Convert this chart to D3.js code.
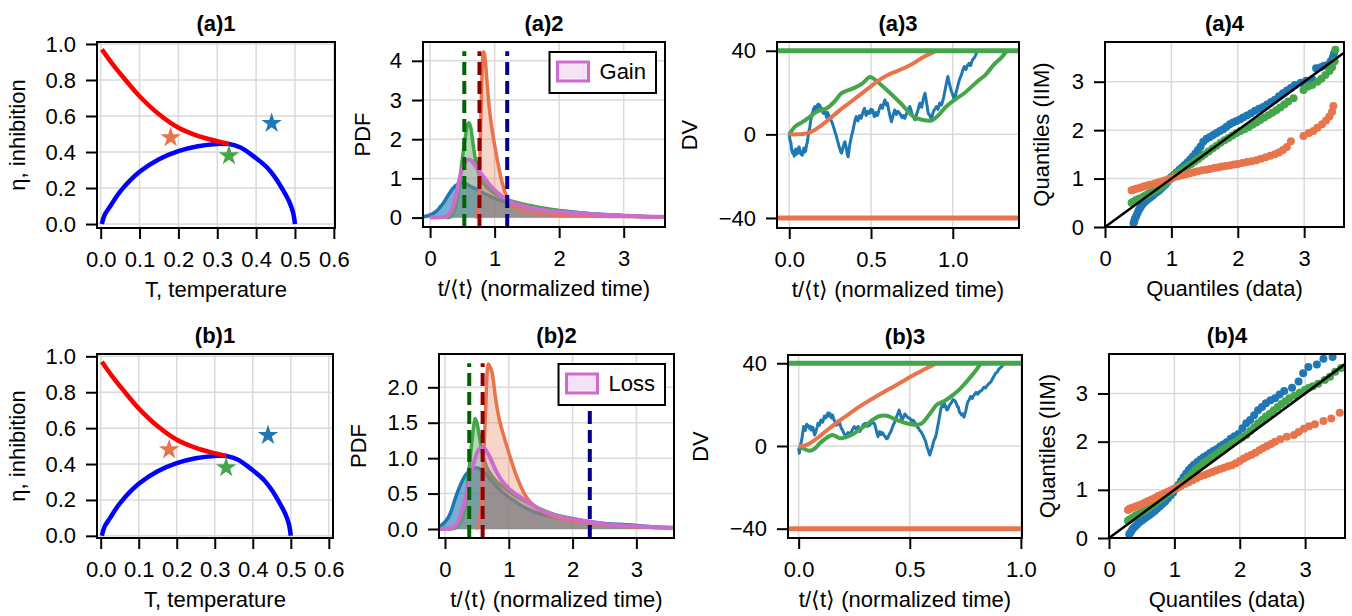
<!DOCTYPE html>
<html>
<head>
<meta charset="utf-8">
<script src="https://cdn.jsdelivr.net/npm/d3@7"></script>
<style>
  body { margin: 0; background: #fff; }
  svg text { font-family: "Liberation Sans", Arial, sans-serif; font-size: 22px; fill: #000; }
  .title { font-weight: bold; }
</style>
</head>
<body>
<div id="chart"></div>
<script>
var svgWidth = 1352;
var svgHeight = 616;

var blue = "#1f77b4", orange = "#e8744c", green = "#45a54b", purple = "#cc6ccf";

// ---- panel 1: phase diagram (same in both rows)
var spinodalT   = [0.003, 0.01, 0.025, 0.05, 0.1, 0.15, 0.2, 0.25, 0.3, 0.33, 0.36, 0.4, 0.43, 0.45, 0.47, 0.485, 0.495, 0.5];
var spinodalEta = [0.0, 0.05, 0.1, 0.18, 0.29, 0.36, 0.405, 0.432, 0.445, 0.445, 0.425, 0.365, 0.31, 0.255, 0.185, 0.125, 0.065, 0.0];
var boundaryT   = [0.003, 0.03, 0.06, 0.1, 0.15, 0.2, 0.25, 0.3, 0.33];
var boundaryEta = [0.97, 0.89, 0.81, 0.71, 0.61, 0.535, 0.49, 0.46, 0.445];
var starT   = [0.18, 0.33, 0.44];
var starEta = [0.48, 0.38, 0.56];
var starColors = [orange, green, blue];

// ---- panel 2: PDFs, row a (Gain)
var gainBlueX   = [-0.11, -0.05, 0, 0.05, 0.1, 0.15, 0.2, 0.25, 0.3, 0.35, 0.4, 0.45, 0.5, 0.55, 0.6, 0.7, 0.8, 0.9, 1.0, 1.1, 1.2, 1.3, 1.5, 1.7, 1.9, 2.1, 2.3, 2.5, 2.7, 3.0, 3.3, 3.64];
var gainBlueY   = [0.02, 0.04, 0.07, 0.11, 0.17, 0.26, 0.36, 0.49, 0.62, 0.74, 0.82, 0.87, 0.89, 0.87, 0.82, 0.74, 0.65, 0.57, 0.49, 0.43, 0.38, 0.33, 0.27, 0.23, 0.19, 0.16, 0.13, 0.1, 0.08, 0.05, 0.03, 0.02];
var gainGreenX  = [0.25, 0.3, 0.35, 0.4, 0.45, 0.5, 0.55, 0.58, 0.6, 0.63, 0.66, 0.7, 0.75, 0.8, 0.9, 1.0, 1.1, 1.2, 1.4, 1.6, 1.8, 2.0, 2.3, 2.6, 3.0, 3.3, 3.64];
var gainGreenY  = [0, 0.01, 0.08, 0.3, 0.8, 1.5, 2.1, 2.38, 2.42, 2.3, 1.95, 1.5, 1.15, 0.95, 0.75, 0.62, 0.53, 0.46, 0.36, 0.29, 0.23, 0.18, 0.12, 0.08, 0.05, 0.03, 0.02];
var gainOrangeX = [0.7, 0.73, 0.75, 0.77, 0.79, 0.81, 0.83, 0.85, 0.88, 0.92, 0.96, 1.0, 1.05, 1.1, 1.15, 1.2, 1.3, 1.4, 1.5, 1.7, 2.0, 2.5, 3.0, 3.64];
var gainOrangeY = [0, 0.05, 0.4, 1.4, 2.8, 3.9, 4.23, 4.1, 3.5, 2.75, 2.25, 1.85, 1.4, 1.0, 0.7, 0.5, 0.3, 0.2, 0.15, 0.1, 0.06, 0.04, 0.025, 0.01];
var gainPurpleX = [0, 0.1, 0.2, 0.25, 0.3, 0.35, 0.4, 0.45, 0.5, 0.55, 0.6, 0.65, 0.7, 0.8, 0.9, 1.0, 1.1, 1.2, 1.3, 1.5, 1.7, 2.0, 2.3, 2.6, 3.0, 3.3, 3.64];
var gainPurpleY = [0, 0.005, 0.01, 0.03, 0.09, 0.25, 0.55, 0.95, 1.27, 1.43, 1.48, 1.44, 1.33, 1.1, 0.88, 0.7, 0.56, 0.45, 0.37, 0.27, 0.21, 0.15, 0.11, 0.08, 0.05, 0.03, 0.02];
var gainMeans = [0.53, 0.765, 1.195];

// ---- panel 2: PDFs, row b (Loss)
var lossBlueX   = [-0.094, -0.05, 0, 0.05, 0.1, 0.15, 0.2, 0.25, 0.3, 0.35, 0.4, 0.45, 0.5, 0.55, 0.6, 0.7, 0.8, 0.9, 1.0, 1.1, 1.2, 1.3, 1.5, 1.7, 2.0, 2.2, 2.4, 2.6, 2.8, 3.0, 3.3, 3.59];
var lossBlueY   = [0.03, 0.06, 0.1, 0.16, 0.26, 0.4, 0.53, 0.64, 0.73, 0.79, 0.83, 0.86, 0.86, 0.85, 0.82, 0.72, 0.61, 0.52, 0.45, 0.39, 0.33, 0.28, 0.21, 0.17, 0.13, 0.11, 0.09, 0.07, 0.065, 0.05, 0.03, 0.02];
var lossGreenX  = [0.05, 0.15, 0.2, 0.25, 0.3, 0.35, 0.4, 0.45, 0.47, 0.5, 0.55, 0.6, 0.65, 0.7, 0.8, 0.9, 1.0, 1.1, 1.2, 1.3, 1.5, 1.7, 2.0, 2.3, 2.6, 3.0, 3.3, 3.59];
var lossGreenY  = [0, 0.01, 0.04, 0.1, 0.25, 0.6, 1.05, 1.45, 1.56, 1.5, 1.25, 1.02, 0.88, 0.8, 0.68, 0.6, 0.53, 0.47, 0.42, 0.37, 0.28, 0.21, 0.15, 0.09, 0.05, 0.03, 0.02, 0.015];
var lossOrangeX = [0.48, 0.52, 0.55, 0.58, 0.61, 0.64, 0.66, 0.68, 0.7, 0.74, 0.8, 0.85, 0.9, 1.0, 1.1, 1.2, 1.3, 1.4, 1.5, 1.7, 1.9, 2.2, 2.5, 2.8, 3.2, 3.59];
var lossOrangeY = [0, 0.05, 0.2, 0.55, 1.1, 1.75, 2.2, 2.33, 2.3, 2.2, 1.8, 1.55, 1.38, 1.08, 0.8, 0.58, 0.42, 0.33, 0.26, 0.18, 0.13, 0.09, 0.06, 0.04, 0.025, 0.015];
var lossPurpleX = [-0.094, 0, 0.1, 0.15, 0.2, 0.25, 0.3, 0.35, 0.4, 0.45, 0.5, 0.55, 0.6, 0.65, 0.7, 0.8, 0.9, 1.0, 1.1, 1.2, 1.3, 1.5, 1.7, 2.0, 2.3, 2.6, 3.0, 3.3, 3.59];
var lossPurpleY = [0, 0, 0.01, 0.03, 0.09, 0.2, 0.36, 0.55, 0.75, 0.93, 1.07, 1.14, 1.15, 1.1, 1.02, 0.82, 0.67, 0.57, 0.5, 0.44, 0.38, 0.27, 0.2, 0.14, 0.1, 0.06, 0.04, 0.025, 0.015];
var lossMeans = [0.38, 0.59, 2.27];

var meanColors = ["#006400", "#8b0000", "#00008b"];

// ---- panel 3: decision variable trajectories
var bounds = [40, -40];
var gainTrajGreenT = [0, 0.035, 0.075, 0.12, 0.17, 0.23, 0.28, 0.32, 0.39, 0.45, 0.49, 0.51, 0.55, 0.6, 0.68, 0.76, 0.81, 0.87, 0.91, 0.96, 1.02, 1.07, 1.15, 1.2, 1.25, 1.3, 1.33];
var gainTrajGreenV = [0, 3.7, 5.6, 8, 10.9, 12.5, 16, 19.7, 22, 24.5, 27.4, 27, 24.5, 21, 15, 8.5, 7, 6.6, 9, 13.3, 17, 19.7, 25.3, 28.5, 33.3, 37, 40];
var gainTrajOrangeT = [0, 0.04, 0.086, 0.12, 0.15, 0.2, 0.25, 0.3, 0.35, 0.4, 0.45, 0.5, 0.55, 0.6, 0.66, 0.71, 0.76, 0.82, 0.86, 0.9];
var gainTrajOrangeV = [0, 0, 0.2, 0.8, 1.8, 4.5, 7.7, 11, 14, 17, 20, 23, 26, 28.3, 30.3, 32, 34, 37, 38.5, 40];
var gainTrajBlueT = [0, 0.005, 0.01, 0.015, 0.02, 0.025, 0.03, 0.035, 0.04, 0.045, 0.05, 0.055, 0.06, 0.065, 0.07, 0.075, 0.08, 0.085, 0.09, 0.095, 0.1, 0.106, 0.11, 0.115, 0.12, 0.125, 0.13, 0.136, 0.14, 0.145, 0.15, 0.157, 0.162, 0.167, 0.172, 0.177, 0.182, 0.187, 0.191, 0.195, 0.2, 0.205, 0.21, 0.215, 0.22, 0.225, 0.23, 0.235, 0.24, 0.245, 0.25, 0.255, 0.26, 0.265, 0.27, 0.275, 0.28, 0.285, 0.29, 0.295, 0.3, 0.305, 0.31, 0.315, 0.32, 0.325, 0.33, 0.335, 0.34, 0.345, 0.35, 0.355, 0.36, 0.365, 0.37, 0.375, 0.38, 0.385, 0.39, 0.395, 0.4, 0.405, 0.41, 0.415, 0.42, 0.425, 0.43, 0.435, 0.44, 0.445, 0.45, 0.455, 0.46, 0.465, 0.47, 0.475, 0.48, 0.485, 0.49, 0.495, 0.5, 0.505, 0.51, 0.515, 0.52, 0.525, 0.53, 0.535, 0.54, 0.545, 0.55, 0.555, 0.56, 0.565, 0.57, 0.578, 0.585, 0.59, 0.595, 0.6, 0.605, 0.61, 0.617, 0.625, 0.63, 0.635, 0.64, 0.645, 0.65, 0.655, 0.66, 0.665, 0.67, 0.676, 0.683, 0.69, 0.698, 0.707, 0.713, 0.72, 0.728, 0.737, 0.743, 0.75, 0.755, 0.76, 0.765, 0.77, 0.775, 0.78, 0.785, 0.79, 0.795, 0.8, 0.805, 0.81, 0.815, 0.82, 0.825, 0.83, 0.835, 0.84, 0.845, 0.85, 0.855, 0.86, 0.865, 0.87, 0.875, 0.88, 0.885, 0.89, 0.895, 0.9, 0.905, 0.91, 0.915, 0.92, 0.925, 0.93, 0.935, 0.94, 0.945, 0.95, 0.955, 0.96, 0.965, 0.97, 0.975, 0.98, 0.985, 0.99, 0.995, 1.0, 1.005, 1.01, 1.015, 1.02, 1.025, 1.03, 1.035, 1.04, 1.045, 1.05, 1.055, 1.06, 1.065, 1.07, 1.075, 1.08, 1.085, 1.09, 1.095, 1.1, 1.105, 1.11, 1.115, 1.12, 1.125, 1.13, 1.135, 1.14, 1.145, 1.15];
var gainTrajBlueV = [0, -3, -4, -7.5, -9, -8, -10.5, -8.5, -7, -9.5, -9, -7, -6, -8, -9.5, -8.5, -10, -7.5, -6.5, -8.5, -8, -5, -4, -1, 1.5, 3, 6, 8.5, 10, 11, 12.5, 13.3, 11.5, 12, 14, 14.5, 13, 14, 12.5, 11.5, 12.5, 10.5, 10, 12, 11, 9, 8, 10.5, 9.5, 8, 8.5, 7, 6, 5, 3.7, 2.5, 1, 0, -1.5, -3, -4.3, -6, -7, -8.5, -9, -7.5, -6, -4.5, -3.5, -5, -7, -9.5, -10.7, -8, -5, -3, -1, 0.5, 2, 4, 6, 7.5, 8.5, 7, 6.5, 8, 9, 8, 7.7, 9, 10.5, 11.5, 12.5, 10.5, 9, 10, 11, 10.5, 10, 11.5, 12, 10.5, 11.7, 10, 8.5, 9.5, 10.5, 9, 9.3, 10.5, 12, 13, 14, 13, 12.5, 15, 16.5, 15, 14, 15, 13, 11, 8.5, 6, 7.5, 9, 10.5, 11.7, 11, 9.5, 10.5, 11, 10.5, 10, 9, 8, 9, 7.7, 9, 10.5, 12, 13.3, 12, 10, 9, 8.5, 7.5, 7, 8.5, 10, 11, 12.5, 14, 15, 13.5, 13, 15, 17, 18.5, 19.7, 17.5, 15, 12.5, 10, 9.5, 9, 8, 7.7, 9, 10.5, 11.5, 12, 12.5, 13.3, 12.5, 12, 13.5, 15, 14.5, 14, 15, 16.5, 18, 20, 22, 24, 26, 27.7, 26, 24, 22.5, 21, 20, 19, 17.5, 16.5, 18, 20, 21.5, 23, 24.5, 26, 27, 28, 29, 30.5, 31.5, 32.5, 31.5, 31, 32, 33, 33.5, 34, 33, 33, 34.5, 35.5, 36, 36.5, 37, 38, 39, 40];

var lossTrajGreenT = [0, 0.02, 0.05, 0.075, 0.095, 0.12, 0.15, 0.17, 0.185, 0.21, 0.245, 0.275, 0.305, 0.335, 0.365, 0.395, 0.425, 0.455, 0.485, 0.53, 0.555, 0.575, 0.6, 0.62, 0.66, 0.695, 0.725, 0.755, 0.79, 0.82];
var lossTrajGreenV = [-0.3, -1.2, -2.3, -1, 1.3, 3.5, 5.3, 4.5, 3.7, 4.2, 5.8, 8, 10.2, 12.8, 14.5, 14.6, 13.4, 12, 11, 10.2, 11, 13.4, 17, 19.8, 22, 24.7, 27.5, 31, 35.5, 40];
var lossTrajOrangeT = [0, 0.03, 0.05, 0.08, 0.11, 0.15, 0.21, 0.28, 0.36, 0.44, 0.52, 0.58, 0.62];
var lossTrajOrangeV = [0, 0.3, 1.3, 3.5, 6.1, 9.5, 14.2, 19.5, 24.7, 29.5, 34.4, 37.8, 40];
var lossTrajBlueT = [0, 0.003, 0.006, 0.009, 0.012, 0.015, 0.018, 0.0225, 0.026, 0.03, 0.033, 0.036, 0.039, 0.042, 0.046, 0.05, 0.054, 0.057, 0.061, 0.064, 0.068, 0.072, 0.076, 0.08, 0.084, 0.087, 0.091, 0.094, 0.097, 0.1, 0.104, 0.108, 0.112, 0.116, 0.12, 0.125, 0.128, 0.132, 0.136, 0.14, 0.144, 0.148, 0.152, 0.155, 0.158, 0.162, 0.166, 0.17, 0.174, 0.178, 0.182, 0.185, 0.189, 0.192, 0.196, 0.2, 0.204, 0.208, 0.212, 0.215, 0.219, 0.222, 0.226, 0.23, 0.235, 0.24, 0.245, 0.25, 0.255, 0.26, 0.264, 0.268, 0.272, 0.275, 0.28, 0.285, 0.289, 0.292, 0.296, 0.3, 0.305, 0.31, 0.315, 0.32, 0.325, 0.33, 0.335, 0.34, 0.344, 0.348, 0.353, 0.357, 0.361, 0.365, 0.369, 0.372, 0.376, 0.38, 0.385, 0.39, 0.395, 0.4, 0.405, 0.41, 0.415, 0.42, 0.425, 0.43, 0.435, 0.44, 0.444, 0.448, 0.452, 0.455, 0.459, 0.462, 0.466, 0.47, 0.474, 0.478, 0.482, 0.485, 0.49, 0.495, 0.5, 0.505, 0.51, 0.515, 0.52, 0.525, 0.53, 0.535, 0.54, 0.545, 0.55, 0.555, 0.56, 0.564, 0.568, 0.572, 0.575, 0.579, 0.583, 0.587, 0.59, 0.595, 0.6, 0.605, 0.61, 0.615, 0.62, 0.625, 0.63, 0.635, 0.64, 0.645, 0.65, 0.655, 0.66, 0.664, 0.668, 0.672, 0.675, 0.68, 0.685, 0.69, 0.695, 0.699, 0.703, 0.707, 0.71, 0.714, 0.718, 0.722, 0.725, 0.729, 0.733, 0.737, 0.74, 0.744, 0.748, 0.752, 0.755, 0.759, 0.762, 0.766, 0.77, 0.774, 0.778, 0.782, 0.785, 0.79, 0.795, 0.8, 0.805, 0.81, 0.815, 0.82, 0.825, 0.83, 0.835, 0.84, 0.845, 0.85, 0.855, 0.86, 0.865, 0.87, 0.875, 0.88, 0.885, 0.89, 0.895, 0.9, 0.905, 0.91, 0.915, 0.92, 0.925, 0.93, 0.935, 0.94, 0.945, 0.95, 0.955, 0.96, 0.965];
var lossTrajBlueV = [-1, -3.5, -1.5, 1, 2, 4, 6, 9.4, 8, 7.5, 9, 10.5, 9.5, 10, 9, 8.5, 9.5, 7.7, 8.5, 9, 7, 5.3, 6.5, 8, 9.5, 11, 10, 10, 11.5, 12.6, 12, 11.5, 13, 14.5, 13.5, 14, 15, 16, 14.5, 15.8, 14.5, 13.5, 15, 14, 13, 12, 11, 10, 11, 12, 10.5, 11, 9.5, 8.5, 8, 7, 6, 5.5, 4, 4.5, 6, 6.5, 5, 5.3, 6.5, 7.5, 8.5, 9.4, 8.5, 8, 9, 9.5, 8, 7, 8, 9, 10, 10.5, 10, 11, 10.5, 9.5, 10.5, 10, 11, 12, 11, 11, 10, 8, 6, 4.5, 6, 7, 6, 5.5, 6.5, 6, 5, 4.5, 3.5, 3.7, 5, 6, 7, 8.5, 10, 11, 12.5, 14, 15, 16, 17.4, 16, 15, 13.5, 12.6, 13.5, 14.5, 15.5, 15, 14.5, 14, 13.5, 13.4, 12.5, 12, 12.5, 11.8, 11, 10, 9, 8.5, 7.5, 7, 6, 5, 4, 3, 2, 0.5, -1, -2, -3.5, -4.4, -2.5, -1, 1.3, 3, 4, 6, 9, 12, 15, 18, 19.5, 19, 20.6, 19.5, 18, 17.4, 18, 19, 20, 20.6, 21.5, 22.5, 22, 22, 21, 20.5, 19, 19, 17, 16, 15.8, 15, 15.5, 15, 14, 15.5, 17, 18.5, 20.6, 21.5, 22, 23, 24, 23.5, 23, 24, 24.7, 25.5, 26, 25, 25.5, 26.5, 26.5, 27, 28, 28.5, 28, 28.7, 29.5, 30, 30.5, 31, 32, 33, 34, 35, 35.5, 36, 37, 37.6, 38, 38.5, 39.5, 40];

// ---- panel 4: QQ plots
var gainQQBlueX = [0.43, 0.44, 0.45, 0.47, 0.49, 0.51, 0.53, 0.55, 0.58, 0.61, 0.64, 0.67, 0.7, 0.73, 0.76, 0.79, 0.82, 0.85, 0.88, 0.91, 0.94, 0.97, 1.0, 1.04, 1.08, 1.12, 1.16, 1.2, 1.24, 1.28, 1.32, 1.36, 1.4, 1.44, 1.48, 1.53, 1.58, 1.63, 1.68, 1.73, 1.78, 1.83, 1.88, 1.93, 1.98, 2.03, 2.08, 2.14, 2.2, 2.26, 2.32, 2.38, 2.44, 2.5, 2.56, 2.62, 2.68, 2.74, 2.8, 2.86, 2.95, 3.03, 3.12, 3.18, 3.25, 3.3, 3.36, 3.4, 3.43, 3.45];
var gainQQBlueY = [0.08, 0.12, 0.17, 0.22, 0.29, 0.35, 0.4, 0.44, 0.49, 0.53, 0.57, 0.6, 0.63, 0.66, 0.7, 0.73, 0.76, 0.8, 0.84, 0.88, 0.93, 0.98, 1.03, 1.08, 1.13, 1.18, 1.23, 1.28, 1.33, 1.39, 1.45, 1.52, 1.59, 1.66, 1.76, 1.82, 1.86, 1.9, 1.94, 1.98, 2.02, 2.07, 2.12, 2.16, 2.19, 2.22, 2.26, 2.3, 2.35, 2.4, 2.44, 2.48, 2.53, 2.58, 2.63, 2.7, 2.76, 2.82, 2.87, 2.93, 2.98, 3.02, 3.05, 3.28, 3.3, 3.33, 3.35, 3.42, 3.5, 3.58];
var gainQQGreenX = [0.4, 0.43, 0.46, 0.5, 0.54, 0.58, 0.62, 0.66, 0.7, 0.74, 0.78, 0.82, 0.86, 0.9, 0.94, 0.98, 1.02, 1.06, 1.1, 1.15, 1.2, 1.25, 1.3, 1.35, 1.4, 1.45, 1.5, 1.56, 1.62, 1.68, 1.74, 1.8, 1.86, 1.92, 1.98, 2.04, 2.1, 2.16, 2.22, 2.28, 2.34, 2.4, 2.46, 2.52, 2.58, 2.64, 2.7, 2.76, 2.84, 2.99, 3.06, 3.12, 3.2, 3.26, 3.32, 3.38, 3.42, 3.46, 3.47];
var gainQQGreenY = [0.5, 0.52, 0.55, 0.58, 0.6, 0.63, 0.66, 0.69, 0.72, 0.75, 0.78, 0.81, 0.85, 0.9, 0.95, 1.0, 1.04, 1.08, 1.12, 1.17, 1.22, 1.26, 1.3, 1.35, 1.4, 1.45, 1.5, 1.56, 1.62, 1.68, 1.74, 1.79, 1.84, 1.89, 1.94, 1.98, 2.02, 2.06, 2.11, 2.16, 2.21, 2.26, 2.31, 2.36, 2.41, 2.47, 2.53, 2.59, 2.66, 2.83, 2.9, 2.93, 3.0, 3.06, 3.14, 3.22, 3.3, 3.42, 3.66];
var gainQQOrangeX = [0.4, 0.43, 0.47, 0.51, 0.55, 0.59, 0.63, 0.67, 0.71, 0.75, 0.8, 0.85, 0.9, 0.95, 1.0, 1.05, 1.1, 1.16, 1.22, 1.28, 1.34, 1.4, 1.46, 1.52, 1.58, 1.64, 1.7, 1.76, 1.82, 1.88, 1.94, 2.0, 2.07, 2.14, 2.21, 2.28, 2.35, 2.42, 2.49, 2.56, 2.62, 2.68, 2.74, 2.8, 2.99, 3.07, 3.14, 3.2, 3.27, 3.33, 3.38, 3.42, 3.44];
var gainQQOrangeY = [0.76, 0.77, 0.79, 0.8, 0.82, 0.84, 0.85, 0.87, 0.88, 0.9, 0.92, 0.94, 0.96, 0.98, 1.0, 1.03, 1.05, 1.07, 1.09, 1.11, 1.13, 1.15, 1.17, 1.18, 1.2, 1.22, 1.23, 1.25, 1.26, 1.27, 1.29, 1.3, 1.32, 1.34, 1.36, 1.38, 1.41, 1.44, 1.47, 1.5, 1.54, 1.59, 1.65, 1.77, 1.88, 1.94, 1.98, 2.05, 2.12, 2.2, 2.28, 2.38, 2.5];

var lossQQBlueX = [0.31, 0.33, 0.35, 0.37, 0.4, 0.43, 0.46, 0.5, 0.54, 0.58, 0.62, 0.66, 0.7, 0.74, 0.78, 0.82, 0.86, 0.9, 0.94, 0.98, 1.02, 1.06, 1.1, 1.14, 1.18, 1.22, 1.26, 1.3, 1.35, 1.4, 1.45, 1.5, 1.55, 1.6, 1.65, 1.7, 1.75, 1.8, 1.86, 1.92, 1.98, 2.04, 2.1, 2.16, 2.22, 2.28, 2.34, 2.4, 2.47, 2.54, 2.61, 2.68, 2.8, 2.9, 2.97, 3.05, 3.18, 3.28, 3.42];
var lossQQBlueY = [0.08, 0.12, 0.16, 0.2, 0.24, 0.28, 0.32, 0.36, 0.4, 0.44, 0.48, 0.52, 0.56, 0.61, 0.66, 0.71, 0.76, 0.82, 0.88, 0.94, 1.02, 1.1, 1.18, 1.26, 1.34, 1.41, 1.47, 1.52, 1.58, 1.63, 1.68, 1.72, 1.77, 1.81, 1.85, 1.9, 1.94, 1.99, 2.06, 2.11, 2.16, 2.28, 2.38, 2.45, 2.55, 2.65, 2.72, 2.8, 2.86, 2.9, 2.98, 3.05, 3.12, 3.25, 3.42, 3.55, 3.6, 3.72, 3.76];
var lossQQGreenX = [0.29, 0.32, 0.36, 0.4, 0.44, 0.48, 0.52, 0.56, 0.6, 0.65, 0.7, 0.75, 0.8, 0.85, 0.9, 0.95, 1.0, 1.05, 1.1, 1.15, 1.2, 1.26, 1.32, 1.38, 1.44, 1.5, 1.56, 1.62, 1.68, 1.74, 1.8, 1.86, 1.92, 1.98, 2.04, 2.1, 2.16, 2.22, 2.28, 2.34, 2.4, 2.46, 2.52, 2.58, 2.64, 2.7, 2.76, 2.84, 2.92, 3.0, 3.06, 3.12, 3.2, 3.3, 3.38, 3.46, 3.55];
var lossQQGreenY = [0.36, 0.39, 0.42, 0.46, 0.49, 0.52, 0.55, 0.58, 0.62, 0.67, 0.72, 0.77, 0.82, 0.87, 0.92, 0.97, 1.02, 1.07, 1.12, 1.18, 1.25, 1.33, 1.41, 1.48, 1.55, 1.6, 1.66, 1.72, 1.78, 1.84, 1.89, 1.94, 1.99, 2.04, 2.09, 2.14, 2.22, 2.3, 2.38, 2.45, 2.52, 2.58, 2.65, 2.72, 2.78, 2.84, 2.9, 2.96, 3.02, 3.08, 3.12, 3.15, 3.2, 3.28, 3.35, 3.45, 3.53];
var lossQQOrangeX = [0.29, 0.32, 0.36, 0.4, 0.44, 0.48, 0.52, 0.56, 0.6, 0.65, 0.7, 0.75, 0.8, 0.85, 0.9, 0.95, 1.0, 1.05, 1.1, 1.16, 1.22, 1.28, 1.34, 1.4, 1.46, 1.52, 1.58, 1.64, 1.7, 1.76, 1.82, 1.88, 1.94, 2.0, 2.06, 2.12, 2.18, 2.24, 2.3, 2.36, 2.42, 2.48, 2.54, 2.62, 2.72, 2.83, 2.9, 2.98, 3.06, 3.15, 3.28, 3.4, 3.53];
var lossQQOrangeY = [0.58, 0.61, 0.63, 0.65, 0.67, 0.69, 0.71, 0.74, 0.77, 0.8, 0.83, 0.87, 0.9, 0.93, 0.96, 0.99, 1.02, 1.05, 1.08, 1.12, 1.16, 1.2, 1.24, 1.28, 1.31, 1.34, 1.37, 1.4, 1.43, 1.46, 1.49, 1.51, 1.55, 1.6, 1.65, 1.69, 1.73, 1.77, 1.82, 1.87, 1.91, 1.95, 2.0, 2.05, 2.1, 2.14, 2.2, 2.27, 2.32, 2.36, 2.43, 2.48, 2.6];

var svg = d3.select("#chart")
    .append("svg")
    .attr("width", svgWidth)
    .attr("height", svgHeight);

function pairs(xs, ys) {
    return xs.map((v, i) => [v, ys[i]]);
}

// builds one axes box: grid, data layer (clipped), frame, ticks and labels
function makePanel(p) {
    var x = d3.scaleLinear().domain(p.xDomain).range([p.left, p.right]);
    var y = d3.scaleLinear().domain(p.yDomain).range([p.bottom, p.top]);
    var g = svg.append("g");

    g.append("clipPath").attr("id", "clip-" + p.id)
        .append("rect")
        .attr("x", p.left).attr("y", p.top)
        .attr("width", p.right - p.left).attr("height", p.bottom - p.top);

    var grid = g.append("g").attr("stroke", "#dadada").attr("stroke-width", 1.5);
    grid.selectAll("line.gx").data(p.xTicks).join("line").attr("class", "gx")
        .attr("x1", d => x(d)).attr("x2", d => x(d))
        .attr("y1", p.top).attr("y2", p.bottom);
    grid.selectAll("line.gy").data(p.yTicks).join("line").attr("class", "gy")
        .attr("y1", d => y(d)).attr("y2", d => y(d))
        .attr("x1", p.left).attr("x2", p.right);

    var plot = g.append("g").attr("clip-path", `url(#clip-${p.id})`);

    g.append("rect")
        .attr("x", p.left).attr("y", p.top)
        .attr("width", p.right - p.left).attr("height", p.bottom - p.top)
        .attr("fill", "none").attr("stroke", "#000").attr("stroke-width", 2);

    var xAxis = g.append("g")
        .attr("transform", `translate(0, ${p.bottom})`)
        .call(d3.axisBottom(x).tickValues(p.xTicks).tickFormat(d3.format(p.xFmt)).tickSize(11).tickPadding(12));
    var yAxis = g.append("g")
        .attr("transform", `translate(${p.left}, 0)`)
        .call(d3.axisLeft(y).tickValues(p.yTicks).tickFormat(d3.format(p.yFmt)).tickSize(11).tickPadding(10));
    [xAxis, yAxis].forEach(function(a) {
        a.attr("font-size", null).attr("font-family", null);
        a.select(".domain").remove();
        a.selectAll(".tick line").attr("stroke", "#000").attr("stroke-width", 2);
        a.selectAll(".tick text").attr("fill", "#000");
    });

    g.append("text")
        .attr("class", "title")
        .attr("x", (p.left + p.right) / 2)
        .attr("y", p.top - 11)
        .attr("text-anchor", "middle")
        .text(p.title);

    g.append("text")
        .attr("x", (p.left + p.right) / 2)
        .attr("y", p.bottom + 69)
        .attr("text-anchor", "middle")
        .text(p.xLabel);

    g.append("text")
        .attr("transform", `translate(${p.left - p.yLabelOff}, ${(p.top + p.bottom) / 2}) rotate(-90)`)
        .attr("text-anchor", "middle")
        .text(p.yLabel);

    return { x: x, y: y, g: g, plot: plot, p: p };
}

function drawPhase(ax) {
    var line = d3.line().x(d => ax.x(d[0])).y(d => ax.y(d[1])).curve(d3.curveCatmullRom);
    ax.plot.append("path").datum(pairs(spinodalT, spinodalEta))
        .attr("d", line).attr("fill", "none").attr("stroke", "#0000ff").attr("stroke-width", 4.5);
    ax.plot.append("path").datum(pairs(boundaryT, boundaryEta))
        .attr("d", line).attr("fill", "none").attr("stroke", "#ff0000").attr("stroke-width", 4.5);
    ax.plot.selectAll("path.star")
        .data(starT.map((t, i) => ({ t: t, eta: starEta[i], c: starColors[i] })))
        .join("path").attr("class", "star")
        .attr("transform", d => `translate(${ax.x(d.t)}, ${ax.y(d.eta)})`)
        .attr("d", d3.symbol().type(d3.symbolStar).size(130))
        .attr("fill", d => d.c);
}

function drawKde(ax, xs, ys, color, fillAlpha, lw) {
    var pts = pairs(xs, ys);
    var area = d3.area().x(d => ax.x(d[0])).y0(ax.y(0)).y1(d => ax.y(d[1])).curve(d3.curveMonotoneX);
    var line = d3.line().x(d => ax.x(d[0])).y(d => ax.y(d[1])).curve(d3.curveMonotoneX);
    ax.plot.append("path").datum(pts).attr("d", area)
        .attr("fill", color).attr("fill-opacity", fillAlpha);
    ax.plot.append("path").datum(pts).attr("d", line)
        .attr("fill", "none").attr("stroke", color).attr("stroke-width", lw);
}

function drawMeans(ax, means) {
    var p = ax.p;
    ax.plot.selectAll("line.mean").data(means).join("line").attr("class", "mean")
        .attr("x1", d => ax.x(d)).attr("x2", d => ax.x(d))
        .attr("y1", p.bottom).attr("y2", p.bottom - 0.95 * (p.bottom - p.top))
        .attr("stroke", (d, i) => meanColors[i])
        .attr("stroke-width", 4)
        .attr("stroke-dasharray", "13,6");
}

function drawLegend(ax, label) {
    var p = ax.p;
    var lg = ax.g.append("g");
    var t = lg.append("text").text(label);
    var tw = t.node().getComputedTextLength();
    var boxW = 50 + tw + 10, boxH = 41;
    var boxL = p.right - 9 - boxW, boxT = p.top + 10;
    lg.insert("rect", "text")
        .attr("x", boxL).attr("y", boxT).attr("width", boxW).attr("height", boxH)
        .attr("fill", "#fff").attr("stroke", "#000").attr("stroke-width", 2);
    lg.insert("rect", "text")
        .attr("x", boxL + 8).attr("y", boxT + 10).attr("width", 31).attr("height", 19)
        .attr("fill", purple).attr("fill-opacity", 0.2)
        .attr("stroke", purple).attr("stroke-width", 3);
    t.attr("x", boxL + 50).attr("y", boxT + 27);
}

function drawPdf(ax, sets, means, label) {
    drawKde(ax, sets[0][0], sets[0][1], blue, 0.6, 3.5);
    drawKde(ax, sets[1][0], sets[1][1], green, 0.42, 3.5);
    drawKde(ax, sets[2][0], sets[2][1], orange, 0.3, 3.5);
    drawKde(ax, sets[3][0], sets[3][1], purple, 0.2, 4);
    drawMeans(ax, means);
    drawLegend(ax, label);
}

function drawTraj(ax, blueT, blueV, greenT, greenV, orangeT, orangeV) {
    var line = d3.line().x(d => ax.x(d[0])).y(d => ax.y(d[1]));
    var smooth = d3.line().x(d => ax.x(d[0])).y(d => ax.y(d[1])).curve(d3.curveCatmullRom);
    ax.plot.append("path").datum(pairs(blueT, blueV)).attr("d", line)
        .attr("fill", "none").attr("stroke", blue).attr("stroke-width", 3).attr("stroke-linejoin", "round");
    ax.plot.append("path").datum(pairs(greenT, greenV)).attr("d", smooth)
        .attr("fill", "none").attr("stroke", green).attr("stroke-width", 4);
    ax.plot.append("path").datum(pairs(orangeT, orangeV)).attr("d", smooth)
        .attr("fill", "none").attr("stroke", orange).attr("stroke-width", 4);
    var xd = ax.x.domain();
    ax.plot.selectAll("line.bound").data(bounds).join("line").attr("class", "bound")
        .attr("x1", ax.x(xd[0])).attr("x2", ax.x(xd[1]))
        .attr("y1", d => ax.y(d)).attr("y2", d => ax.y(d))
        .attr("stroke", (d, i) => i === 0 ? green : orange)
        .attr("stroke-width", 5);
}

function drawQQ(ax, series) {
    var colors = [blue, green, orange];
    series.forEach(function(s, k) {
        ax.plot.append("g").selectAll("circle")
            .data(pairs(s[0], s[1]))
            .join("circle")
            .attr("cx", d => ax.x(d[0]))
            .attr("cy", d => ax.y(d[1]))
            .attr("r", 4)
            .attr("fill", colors[k]);
    });
    var xd = ax.x.domain();
    ax.plot.append("line")
        .attr("x1", ax.x(0)).attr("y1", ax.y(0))
        .attr("x2", ax.x(xd[1])).attr("y2", ax.y(xd[1]))
        .attr("stroke", "#000").attr("stroke-width", 2.5);
}

var tLabel = "t/\u27e8t\u27e9 (normalized time)";
var phaseTicksX = [0, 0.1, 0.2, 0.3, 0.4, 0.5, 0.6];
var phaseTicksY = [0, 0.2, 0.4, 0.6, 0.8, 1.0];

var a1 = makePanel({ id: "a1", left: 97, top: 42, right: 335, bottom: 228,
    xDomain: [-0.0095, 0.603], yDomain: [-0.022, 1.011], xTicks: phaseTicksX, yTicks: phaseTicksY,
    xFmt: ".1f", yFmt: ".1f", title: "(a)1", xLabel: "T, temperature", yLabel: "\u03b7, inhibition", yLabelOff: 72 });
var a2 = makePanel({ id: "a2", left: 423, top: 42, right: 665, bottom: 227,
    xDomain: [-0.11, 3.64], yDomain: [-0.24, 4.48], xTicks: [0, 1, 2, 3], yTicks: [0, 1, 2, 3, 4],
    xFmt: "d", yFmt: "d", title: "(a)2", xLabel: tLabel, yLabel: "PDF", yLabelOff: 53 });
var a3 = makePanel({ id: "a3", left: 777, top: 42, right: 1019, bottom: 228,
    xDomain: [-0.075, 1.405], yDomain: [-44.8, 44.2], xTicks: [0, 0.5, 1.0], yTicks: [-40, 0, 40],
    xFmt: ".1f", yFmt: "d", title: "(a)3", xLabel: tLabel, yLabel: "DV", yLabelOff: 80 });
var a4 = makePanel({ id: "a4", left: 1105, top: 42, right: 1344, bottom: 227,
    xDomain: [0, 3.6], yDomain: [0, 3.82], xTicks: [0, 1, 2, 3], yTicks: [0, 1, 2, 3],
    xFmt: "d", yFmt: "d", title: "(a)4", xLabel: "Quantiles (data)", yLabel: "Quantiles (IIM)", yLabelOff: 56 });

var b1 = makePanel({ id: "b1", left: 97, top: 354, right: 333, bottom: 538,
    xDomain: [-0.0097, 0.611], yDomain: [-0.012, 1.013], xTicks: phaseTicksX, yTicks: phaseTicksY,
    xFmt: ".1f", yFmt: ".1f", title: "(b)1", xLabel: "T, temperature", yLabel: "\u03b7, inhibition", yLabelOff: 72 });
var b2 = makePanel({ id: "b2", left: 439, top: 354, right: 674, bottom: 538,
    xDomain: [-0.094, 3.59], yDomain: [-0.127, 2.47], xTicks: [0, 1, 2, 3], yTicks: [0, 0.5, 1.0, 1.5, 2.0],
    xFmt: "d", yFmt: ".1f", title: "(b)2", xLabel: tLabel, yLabel: "PDF", yLabelOff: 73 });
var b3 = makePanel({ id: "b3", left: 788, top: 355, right: 1022, bottom: 538,
    xDomain: [-0.048, 1.005], yDomain: [-44.5, 44], xTicks: [0, 0.5, 1.0], yTicks: [-40, 0, 40],
    xFmt: ".1f", yFmt: "d", title: "(b)3", xLabel: tLabel, yLabel: "DV", yLabelOff: 80 });
var b4 = makePanel({ id: "b4", left: 1109, top: 354, right: 1345, bottom: 538,
    xDomain: [0, 3.61], yDomain: [0, 3.82], xTicks: [0, 1, 2, 3], yTicks: [0, 1, 2, 3],
    xFmt: "d", yFmt: "d", title: "(b)4", xLabel: "Quantiles (data)", yLabel: "Quantiles (IIM)", yLabelOff: 54 });

drawPhase(a1);
drawPhase(b1);

drawPdf(a2, [[gainBlueX, gainBlueY], [gainGreenX, gainGreenY], [gainOrangeX, gainOrangeY], [gainPurpleX, gainPurpleY]], gainMeans, "Gain");
drawPdf(b2, [[lossBlueX, lossBlueY], [lossGreenX, lossGreenY], [lossOrangeX, lossOrangeY], [lossPurpleX, lossPurpleY]], lossMeans, "Loss");

drawTraj(a3, gainTrajBlueT, gainTrajBlueV, gainTrajGreenT, gainTrajGreenV, gainTrajOrangeT, gainTrajOrangeV);
drawTraj(b3, lossTrajBlueT, lossTrajBlueV, lossTrajGreenT, lossTrajGreenV, lossTrajOrangeT, lossTrajOrangeV);

drawQQ(a4, [[gainQQBlueX, gainQQBlueY], [gainQQGreenX, gainQQGreenY], [gainQQOrangeX, gainQQOrangeY]]);
drawQQ(b4, [[lossQQBlueX, lossQQBlueY], [lossQQGreenX, lossQQGreenY], [lossQQOrangeX, lossQQOrangeY]]);
</script>
</body>
</html>
